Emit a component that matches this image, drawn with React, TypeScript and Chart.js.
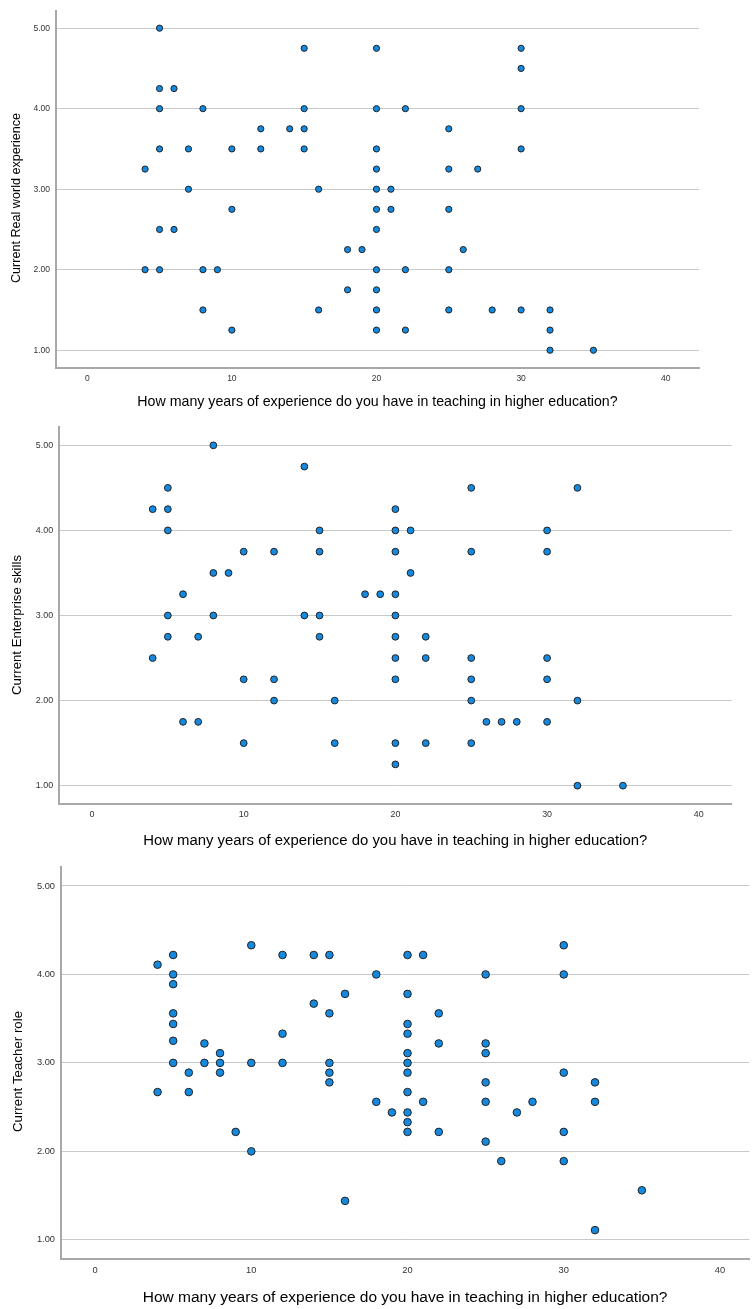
import React, { useEffect, useRef } from "react";
import { Chart, registerables } from "chart.js";

Chart.register(...registerables);

const FONT = "'Liberation Sans', Arial, Helvetica, sans-serif";

const xTitle = "How many years of experience do you have in teaching in higher education?";
const xTickValues = [0, 10, 20, 30, 40];
const yTickValues = [1, 2, 3, 4, 5];

const realTitle = "Current Real world experience";
const realYears = [
  5,
  15, 20, 30,
  30,
  5, 6,
  5, 8, 15, 20, 22, 30,
  12, 14, 15, 25,
  5, 7, 10, 12, 15, 20, 30,
  4, 20, 25, 27,
  7, 16, 20, 21,
  10, 20, 21, 25,
  5, 6, 20,
  18, 19, 26,
  4, 5, 8, 9, 20, 22, 25,
  18, 20,
  8, 16, 20, 25, 28, 30, 32,
  10, 20, 22, 32,
  32, 35,
];
const realScores = [
  5.0,
  4.75, 4.75, 4.75,
  4.5,
  4.25, 4.25,
  4.0, 4.0, 4.0, 4.0, 4.0, 4.0,
  3.75, 3.75, 3.75, 3.75,
  3.5, 3.5, 3.5, 3.5, 3.5, 3.5, 3.5,
  3.25, 3.25, 3.25, 3.25,
  3.0, 3.0, 3.0, 3.0,
  2.75, 2.75, 2.75, 2.75,
  2.5, 2.5, 2.5,
  2.25, 2.25, 2.25,
  2.0, 2.0, 2.0, 2.0, 2.0, 2.0, 2.0,
  1.75, 1.75,
  1.5, 1.5, 1.5, 1.5, 1.5, 1.5, 1.5,
  1.25, 1.25, 1.25, 1.25,
  1.0, 1.0,
];

const enterpriseTitle = "Current Enterprise skills";
const enterpriseYears = [
  8,
  14,
  5, 25, 32,
  4, 5, 20,
  5, 15, 20, 21, 30,
  10, 12, 15, 20, 25, 30,
  8, 9, 21,
  6, 18, 19, 20,
  5, 8, 14, 15, 20,
  5, 7, 15, 20, 22,
  4, 20, 22, 25, 30,
  10, 12, 20, 25, 30,
  12, 16, 25, 32,
  6, 7, 26, 27, 28, 30,
  10, 16, 20, 22, 25,
  20,
  32, 35,
];
const enterpriseScores = [
  5.0,
  4.75,
  4.5, 4.5, 4.5,
  4.25, 4.25, 4.25,
  4.0, 4.0, 4.0, 4.0, 4.0,
  3.75, 3.75, 3.75, 3.75, 3.75, 3.75,
  3.5, 3.5, 3.5,
  3.25, 3.25, 3.25, 3.25,
  3.0, 3.0, 3.0, 3.0, 3.0,
  2.75, 2.75, 2.75, 2.75, 2.75,
  2.5, 2.5, 2.5, 2.5, 2.5,
  2.25, 2.25, 2.25, 2.25, 2.25,
  2.0, 2.0, 2.0, 2.0,
  1.75, 1.75, 1.75, 1.75, 1.75, 1.75,
  1.5, 1.5, 1.5, 1.5, 1.5,
  1.25,
  1.0, 1.0,
];

const teacherTitle = "Current Teacher role";
const teacherYears = [
  10, 30,
  5, 12, 14, 15, 20, 21,
  4,
  5, 18, 25, 30,
  5,
  16, 20,
  14,
  5, 15, 22,
  5, 20,
  12, 20,
  5,
  7, 22, 25,
  8, 20, 25,
  5, 7, 8, 10, 12, 15, 20,
  6, 8, 15, 20, 30,
  15, 25, 32,
  4, 6, 20,
  18, 21, 25, 28, 32,
  19, 20, 27,
  20,
  9, 20, 22, 30,
  25,
  10,
  26, 30,
  35,
  16,
  32,
];
const teacherScores = [
  4.33, 4.33,
  4.22, 4.22, 4.22, 4.22, 4.22, 4.22,
  4.11,
  4.0, 4.0, 4.0, 4.0,
  3.89,
  3.78, 3.78,
  3.67,
  3.56, 3.56, 3.56,
  3.44, 3.44,
  3.33, 3.33,
  3.25,
  3.22, 3.22, 3.22,
  3.11, 3.11, 3.11,
  3.0, 3.0, 3.0, 3.0, 3.0, 3.0, 3.0,
  2.89, 2.89, 2.89, 2.89, 2.89,
  2.78, 2.78, 2.78,
  2.67, 2.67, 2.67,
  2.56, 2.56, 2.56, 2.56, 2.56,
  2.44, 2.44, 2.44,
  2.33,
  2.22, 2.22, 2.22, 2.22,
  2.11,
  2.0,
  1.89, 1.89,
  1.56,
  1.44,
  1.11,
];

type Panel = {
  yTitle: string;
  xs: number[];
  ys: number[];
  top: number;
  height: number;
  plotLeft: number;
  plotRight: number;
  plotTop: number;
  plotBottom: number;
  xMin: number;
  xMax: number;
  yMin: number;
  yMax: number;
  tickSize: number;
  xTickPad: number;
  yTickPad: number;
  xTitleSize: number;
  xTitleCenter: number;
  yTitleSize: number;
  yTitleX: number;
  yTitleY: number;
  radius: number;
};

const panels: Panel[] = [
  {
    yTitle: realTitle, xs: realYears, ys: realScores,
    top: 0, height: 415,
    plotLeft: 56, plotRight: 699, plotTop: 6.7, plotBottom: 367.7,
    xMin: -2.16, xMax: 42.3, yMin: 0.783, yMax: 5.212,
    tickSize: 8.5, xTickPad: 5.5, yTickPad: 6,
    xTitleSize: 14.2, xTitleCenter: 402.3,
    yTitleSize: 12.6, yTitleX: 17, yTitleY: 198,
    radius: 3.1,
  },
  {
    yTitle: enterpriseTitle, xs: enterpriseYears, ys: enterpriseScores,
    top: 415, height: 435,
    plotLeft: 58.7, plotRight: 731.7, plotTop: 426.7, plotBottom: 804.3,
    xMin: -2.195, xMax: 42.17, yMin: 0.781, yMax: 5.219,
    tickSize: 8.9, xTickPad: 5.4, yTickPad: 5.6,
    xTitleSize: 14.9, xTitleCenter: 840.5,
    yTitleSize: 13.2, yTitleX: 17.5, yTitleY: 625,
    radius: 3.4,
  },
  {
    yTitle: teacherTitle, xs: teacherYears, ys: teacherScores,
    top: 850, height: 459,
    plotLeft: 61, plotRight: 754, plotTop: 866.5, plotBottom: 1259.3,
    xMin: -2.18, xMax: 41.87, yMin: 0.78, yMax: 5.22,
    tickSize: 9.3, xTickPad: 6, yTickPad: 6,
    xTitleSize: 15.5, xTitleCenter: 1297.3,
    yTitleSize: 13.3, yTitleX: 18, yTitleY: 1071.5,
    radius: 3.8,
  },
];

const yTitlePlugin = {
  id: "yTitle",
  afterDraw(chart: any, _args: any, opts: any) {
    const ctx = chart.ctx;
    ctx.save();
    ctx.translate(opts.x, opts.y);
    ctx.rotate(-Math.PI / 2);
    ctx.font = `${opts.size}px ${FONT}`;
    ctx.fillStyle = "#000000";
    ctx.textAlign = "center";
    ctx.textBaseline = "middle";
    ctx.fillText(opts.text, 0, 0);
    ctx.restore();
  },
};

function ScatterPanel({ p }: { p: Panel }) {
  const ref = useRef<HTMLCanvasElement | null>(null);
  useEffect(() => {
    if (!ref.current) return;
    const W = 754;
    const bottomEdge = p.top + p.height;
    const xScaleHeight = bottomEdge - p.plotBottom;
    const xTitleLine = p.xTitleSize * 1.2;
    const xTitlePadBottom = bottomEdge - p.xTitleCenter - xTitleLine / 2;
    const data = p.xs.map((x, i) => ({ x, y: p.ys[i] }));
    const chart = new Chart(ref.current, {
      type: "scatter",
      data: {
        datasets: [
          {
            data,
            backgroundColor: "#1589de",
            borderColor: "#1f2328",
            borderWidth: 1,
            pointRadius: p.radius,
            pointHoverRadius: p.radius,
          },
        ],
      },
      plugins: [yTitlePlugin],
      options: {
        animation: false,
        responsive: false,
        maintainAspectRatio: false,
        events: [],
        layout: {
          padding: { left: 0, top: p.plotTop - p.top, right: W - p.plotRight, bottom: 0 },
        },
        plugins: {
          legend: { display: false },
          tooltip: { enabled: false },
          yTitle: { text: p.yTitle, x: p.yTitleX, y: p.yTitleY - p.top, size: p.yTitleSize },
        } as any,
        scales: {
          x: {
            type: "linear",
            position: "bottom",
            min: p.xMin,
            max: p.xMax,
            afterBuildTicks: (s: any) => {
              s.ticks = xTickValues.map((v) => ({ value: v }));
            },
            afterFit: (s: any) => {
              s.height = xScaleHeight;
            },
            grid: { display: false, drawTicks: false },
            border: { display: true, color: "#a8a8a8", width: 2 },
            ticks: {
              autoSkip: false,
              maxRotation: 0,
              padding: p.xTickPad,
              color: "#333333",
              font: { family: FONT, size: p.tickSize },
              callback: (v: any) => String(v),
            },
            title: {
              display: true,
              text: xTitle,
              color: "#000000",
              font: { family: FONT, size: p.xTitleSize },
              padding: { top: 0, bottom: xTitlePadBottom },
            },
          },
          y: {
            type: "linear",
            position: "left",
            min: p.yMin,
            max: p.yMax,
            afterBuildTicks: (s: any) => {
              s.ticks = yTickValues.map((v) => ({ value: v }));
            },
            afterFit: (s: any) => {
              s.width = p.plotLeft;
            },
            grid: { display: true, drawTicks: false, color: "#c9c9c9", lineWidth: 1 },
            border: { display: true, color: "#a8a8a8", width: 2 },
            ticks: {
              padding: p.yTickPad,
              color: "#333333",
              font: { family: FONT, size: p.tickSize },
              callback: (v: any) => Number(v).toFixed(2),
            },
            title: { display: false },
          },
        },
      } as any,
    });
    return () => chart.destroy();
  }, [p]);
  return (
    <div style={{ position: "absolute", left: 0, top: p.top, width: 754, height: p.height }}>
      <canvas ref={ref} width={754} height={p.height} style={{ display: "block" }} />
    </div>
  );
}

export default function App() {
  return (
    <div style={{ position: "absolute", left: 0, top: 0, width: 754, height: 1309, background: "#ffffff", overflow: "hidden" }}>
      {panels.map((p, i) => (
        <ScatterPanel key={i} p={p} />
      ))}
    </div>
  );
}
